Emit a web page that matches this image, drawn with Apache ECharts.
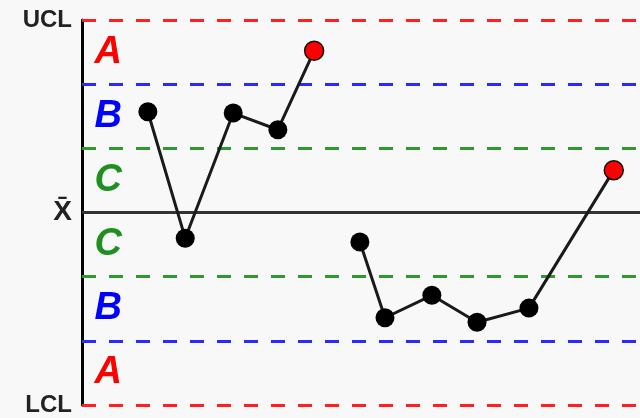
<!DOCTYPE html>
<html>
<head>
<meta charset="utf-8">
<script src="https://cdn.jsdelivr.net/npm/echarts@6/dist/echarts.min.js"></script>
<style>
html,body{margin:0;padding:0;background:#f8f8f8;}
#c{width:640px;height:418px;}
</style>
</head>
<body>
<div id="c"></div>
<script>
// Data (sigma units from centre line; x position along sample axis 0-100)
const seg1X = [11.8, 18.5, 27.1, 35.1, 41.6];
const seg1Y = [1.57, -0.40, 1.55, 1.29, 2.52];
const seg1Out = [false, false, false, false, true];
const seg2X = [49.8, 54.3, 62.7, 70.8, 80.1, 95.3];
const seg2Y = [-0.46, -1.64, -1.29, -1.71, -1.49, 0.66];
const seg2Out = [false, false, false, false, false, true];
const zoneLetters = ['A', 'B', 'C', 'C', 'B', 'A'];
const zoneCentres = [2.5, 1.5, 0.5, -0.5, -1.5, -2.5];
const zoneLetterX = 4.7;
const limitLabels = {'3': 'UCL', '0': '{x|X\u0304}', '-3': 'LCL'};
const zoneLines = [3, 2, 1, -1, -2, -3];

const letterColors = {A: '#ff0000', B: '#0000ff', C: '#1f8f1f'};
const lineColors = {3: '#ff2020', 2: '#2a2aff', 1: '#2e9a2e'};

function pts(xs, ys, outs) {
  return xs.map((x, i) => ({
    value: [x, ys[i]],
    itemStyle: outs[i] ? {color: '#ff0000', borderColor: '#111', borderWidth: 1.5} : {color: '#000'}
  }));
}

const chart = echarts.init(document.getElementById('c'));
chart.setOption({
  backgroundColor: '#f8f8f8',
  animation: false,
  grid: {left: 82, right: 0, top: 20, bottom: 13},
  xAxis: {type: 'value', min: 0, max: 100, show: false},
  yAxis: {
    type: 'value', min: -3, max: 3, interval: 3,
    axisLine: {show: true, lineStyle: {color: '#000', width: 3}},
    axisTick: {show: false},
    splitLine: {show: false},
    axisLabel: {
      margin: 10,
      color: '#222',
      fontFamily: 'Liberation Sans, Arial, sans-serif',
      fontWeight: 'bold',
      fontSize: 24,
      rich: {x: {fontSize: 28, fontWeight: 'bold', color: '#222', fontFamily: 'Liberation Sans, Arial, sans-serif'}},
      formatter: v => limitLabels[String(v)] || ''
    }
  },
  series: [
    {
      type: 'line', data: [], silent: true,
      markLine: {
        silent: true, symbol: 'none', label: {show: false},
        data: zoneLines.map(v => ({
          yAxis: v,
          lineStyle: {color: lineColors[Math.abs(v)], width: 3, type: [14, 13]}
        })).concat([{yAxis: 0, lineStyle: {color: '#333', width: 3, type: 'solid'}}])
      },
      z: 1
    },
    {
      type: 'scatter', silent: true, z: 2,
      symbolSize: 1,
      itemStyle: {color: 'rgba(0,0,0,0)', opacity: 1},
      data: zoneLetters.map((l, i) => ({
        value: [zoneLetterX, zoneCentres[i]],
        label: {
          show: true, position: 'inside', formatter: l,
          color: letterColors[l], fontSize: 38, fontWeight: 'bold', fontStyle: 'italic',
          fontFamily: 'Liberation Sans, Arial, sans-serif'
        }
      }))
    },
    {
      type: 'line', z: 5, symbol: 'circle', symbolSize: 19,
      lineStyle: {color: '#1a1a1a', width: 3},
      data: pts(seg1X, seg1Y, seg1Out)
    },
    {
      type: 'line', z: 5, symbol: 'circle', symbolSize: 19,
      lineStyle: {color: '#1a1a1a', width: 3},
      data: pts(seg2X, seg2Y, seg2Out)
    }
  ]
});
</script>
</body>
</html>
